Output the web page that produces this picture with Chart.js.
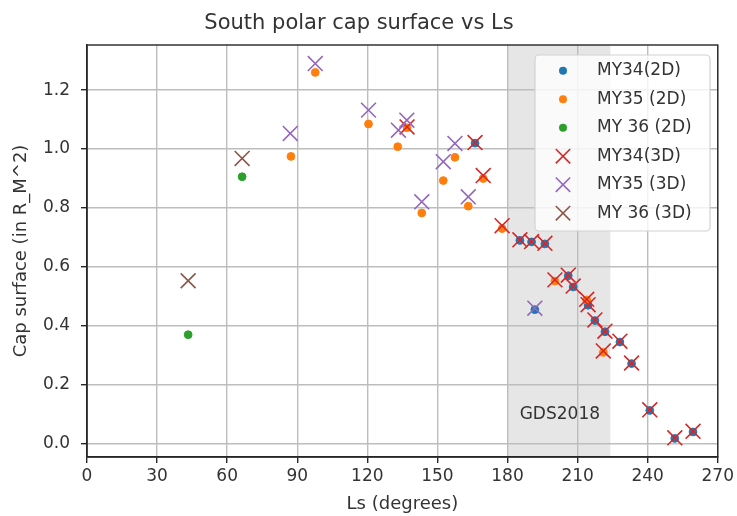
<!DOCTYPE html>
<html>
<head>
<meta charset="utf-8">
<script src="https://cdn.jsdelivr.net/npm/chart.js@4/dist/chart.umd.min.js"></script>
<style>
html,body{margin:0;padding:0;background:#ffffff;}
canvas{display:block;}
</style>
</head>
<body>
<canvas id="c" width="737" height="516"></canvas>
<script>
// ---- text ----
const chartTitle = 'South polar cap surface vs Ls';
const xLabel = 'Ls (degrees)';
const yLabel = 'Cap surface (in R_M^2)';
const spanLabel = 'GDS2018';

// ---- ticks ----
const xTicks = [0, 30, 60, 90, 120, 150, 180, 210, 240, 270];
const yTicks = [0.0, 0.2, 0.4, 0.6, 0.8, 1.0, 1.2];

// ---- series names ----
const seriesNames = ['MY34(2D)', 'MY35 (2D)', 'MY 36 (2D)', 'MY34(3D)', 'MY35 (3D)', 'MY 36 (3D)'];

// ---- data (Ls in degrees, cap surface in R_M^2) ----
const my34_2d_ls  = [166.1, 185.3, 190.3, 191.7, 196.0, 206.0, 208.1, 214.5, 217.4, 221.7, 228.1, 233.1, 240.9, 251.6, 259.4];
const my34_2d_cap = [1.02, 0.69, 0.685, 0.455, 0.678, 0.57, 0.532, 0.47, 0.418, 0.38, 0.345, 0.272, 0.113, 0.018, 0.04];

const my35_2d_ls  = [87.3, 97.7, 120.5, 133.0, 137.0, 143.3, 152.5, 157.5, 163.2, 169.6, 177.7, 200.3, 213.9, 221.0];
const my35_2d_cap = [0.975, 1.26, 1.085, 1.008, 1.072, 0.783, 0.893, 0.972, 0.806, 0.9, 0.73, 0.552, 0.488, 0.31];

const my36_2d_ls  = [43.3, 66.4];
const my36_2d_cap = [0.37, 0.906];

const my34_3d_ls  = [137.0, 166.1, 169.6, 177.7, 185.3, 190.3, 196.0, 200.3, 206.0, 208.1, 213.9, 214.5, 217.4, 221.0, 221.7, 228.1, 233.1, 240.9, 251.6, 259.4];
const my34_3d_cap = [1.075, 1.022, 0.91, 0.74, 0.692, 0.686, 0.68, 0.556, 0.572, 0.535, 0.49, 0.472, 0.42, 0.315, 0.382, 0.348, 0.274, 0.115, 0.02, 0.042];

const my35_3d_ls  = [87.0, 97.7, 120.5, 133.3, 136.9, 143.3, 152.5, 157.5, 163.2, 191.7];
const my35_3d_cap = [1.053, 1.29, 1.132, 1.064, 1.098, 0.821, 0.957, 1.019, 0.838, 0.46];

const my36_3d_ls  = [43.3, 66.4];
const my36_3d_cap = [0.553, 0.968];

// dust storm shaded span (Ls)
const gdsStart = 180;
const gdsEnd = 224;
const gdsTextLs = 202.4;
const gdsTextCap = 0.098;

// ---- styling ----
const FONT = 'DejaVu Sans';
const TEXT = '#333333';
const colors = ['#1f77b4', '#ff7f0e', '#2ca02c', '#d62728', '#9467bd', '#8c564b'];
const isCross = [false, false, false, true, true, true];

function pts(xs, ys) { return xs.map((x, i) => ({x: x, y: ys[i]})); }
const seriesData = [
  pts(my34_2d_ls, my34_2d_cap),
  pts(my35_2d_ls, my35_2d_cap),
  pts(my36_2d_ls, my36_2d_cap),
  pts(my34_3d_ls, my34_3d_cap),
  pts(my35_3d_ls, my35_3d_cap),
  pts(my36_3d_ls, my36_3d_cap)
];

const datasets = seriesData.map((d, i) => isCross[i] ? {
  label: seriesNames[i], data: d, order: 6 - i,
  pointStyle: 'crossRot', pointRadius: 10.5, pointBorderWidth: 1.6,
  borderColor: colors[i], backgroundColor: colors[i]
} : {
  label: seriesNames[i], data: d, order: 6 - i,
  pointStyle: 'circle', pointRadius: 3.9, pointBorderWidth: 1,
  borderColor: colors[i], backgroundColor: colors[i]
});

const decor = {
  id: 'decor',
  beforeDraw(chart) {
    const {ctx, chartArea: a, scales: {x}} = chart;
    const x0 = x.getPixelForValue(gdsStart), x1 = x.getPixelForValue(gdsEnd);
    ctx.save();
    ctx.fillStyle = '#e6e6e6';
    ctx.fillRect(x0, a.top, x1 - x0, a.bottom - a.top);
    ctx.restore();
  },
  afterDatasetsDraw(chart) {
    const {ctx, chartArea: a, scales: {x, y}} = chart;
    ctx.save();
    ctx.fillStyle = TEXT;
    ctx.font = '17px "' + FONT + '"';
    ctx.textAlign = 'center';
    ctx.textBaseline = 'middle';
    ctx.fillText(spanLabel, x.getPixelForValue(gdsTextLs), y.getPixelForValue(gdsTextCap));
    ctx.strokeStyle = '#262626';
    ctx.lineWidth = 1.4;
    ctx.strokeRect(a.left, a.top, a.right - a.left, a.bottom - a.top);
    ctx.restore();
  },
  afterDraw(chart) {
    const {ctx} = chart;
    const bx = 535, by = 55, bw = 175, bh = 176, r = 4;
    ctx.save();
    ctx.beginPath();
    ctx.moveTo(bx + r, by);
    ctx.arcTo(bx + bw, by, bx + bw, by + bh, r);
    ctx.arcTo(bx + bw, by + bh, bx, by + bh, r);
    ctx.arcTo(bx, by + bh, bx, by, r);
    ctx.arcTo(bx, by, bx + bw, by, r);
    ctx.closePath();
    ctx.fillStyle = 'rgba(255,255,255,0.8)';
    ctx.fill();
    ctx.strokeStyle = '#d2d2d2';
    ctx.lineWidth = 1.2;
    ctx.stroke();
    ctx.font = '17px "' + FONT + '"';
    ctx.textAlign = 'left';
    ctx.textBaseline = 'middle';
    chart.data.datasets.forEach((ds, i) => {
      const yy = 70.7 + i * 28.5;
      const mx = 563;
      if (isCross[i]) {
        ctx.strokeStyle = colors[i];
        ctx.lineWidth = 1.6;
        const h = 7.2;
        ctx.beginPath();
        ctx.moveTo(mx - h, yy - h); ctx.lineTo(mx + h, yy + h);
        ctx.moveTo(mx - h, yy + h); ctx.lineTo(mx + h, yy - h);
        ctx.stroke();
      } else {
        ctx.fillStyle = colors[i];
        ctx.beginPath();
        ctx.arc(mx, yy, 4, 0, Math.PI * 2);
        ctx.fill();
      }
      ctx.fillStyle = TEXT;
      ctx.fillText(ds.label, 597, yy);
    });
    ctx.restore();
  }
};

new Chart(document.getElementById('c'), {
  type: 'scatter',
  data: {datasets: datasets},
  options: {
    responsive: false,
    animation: false,
    devicePixelRatio: 1,
    events: [],
    layout: {padding: {left: 0, right: 19, top: 0, bottom: 0}},
    plugins: {
      legend: {display: false},
      tooltip: {enabled: false},
      title: {
        display: true, text: chartTitle, color: TEXT,
        font: {family: FONT, size: 21, weight: 'normal'},
        padding: {top: 11, bottom: 8.8}
      }
    },
    scales: {
      x: {
        type: 'linear', min: 0, max: 270,
        afterBuildTicks: s => { s.ticks = xTicks.map(v => ({value: v})); },
        afterFit: s => { s.height = 59; },
        grid: {color: '#bdbdbd', lineWidth: 1.4, tickColor: '#262626', tickLength: 6, drawTicks: true},
        border: {display: true, color: '#262626', width: 1.4},
        ticks: {color: TEXT, font: {family: FONT, size: 17}, padding: 3, maxRotation: 0, autoSkip: false,
          callback: v => String(v)},
        title: {display: true, text: xLabel, color: TEXT, font: {family: FONT, size: 18}, padding: {top: 0, bottom: 1.2}}
      },
      y: {
        type: 'linear', min: -0.045, max: 1.353,
        afterBuildTicks: s => { s.ticks = yTicks.map(v => ({value: v})); },
        afterFit: s => { s.width = 87; },
        grid: {color: '#bdbdbd', lineWidth: 1.4, tickColor: '#262626', tickLength: 6, drawTicks: true},
        border: {display: true, color: '#262626', width: 1.4},
        ticks: {color: TEXT, font: {family: FONT, size: 17}, padding: 11, autoSkip: false,
          callback: v => Number(v).toFixed(1)},
        title: {display: true, text: yLabel, color: TEXT, font: {family: FONT, size: 18}, padding: {top: 10.9, bottom: 0}}
      }
    }
  },
  plugins: [decor]
});
</script>
</body>
</html>
